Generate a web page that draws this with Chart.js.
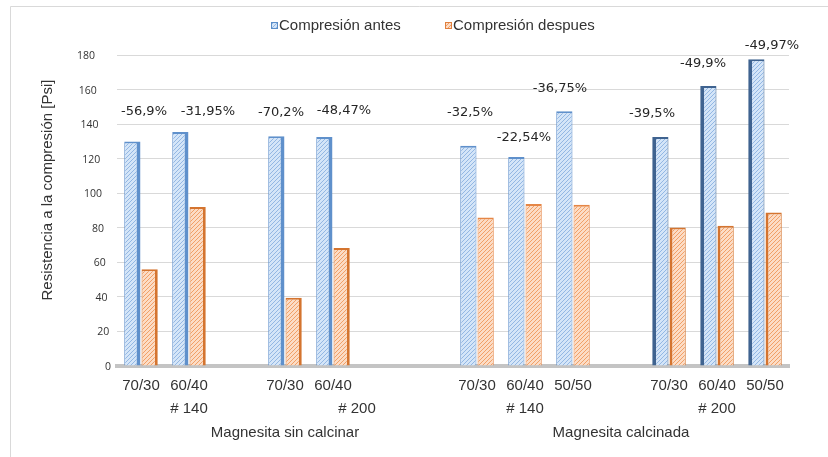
<!DOCTYPE html>
<html>
<head>
<meta charset="utf-8">
<script src="https://cdn.jsdelivr.net/npm/chart.js@4.4.1/dist/chart.umd.min.js"></script>
<style>
  html, body { margin: 0; padding: 0; background: #ffffff; }
  #wrap { width: 828px; height: 457px; position: relative; }
</style>
</head>
<body>
<div id="wrap"><canvas id="c" width="828" height="457"></canvas></div>
<script>
// Mezclas (empty slots separate the mesh groups)
const categories = ['70/30', '60/40', '', '70/30', '60/40', '', '', '70/30', '60/40', '50/50', '', '70/30', '60/40', '50/50'];
// Resistencia a la compresión [Psi]
const antes   = [130, 135.5, null, 133, 132.5, null, null, 127.5, 121, 147.5, null, 132.5, 162, 177.5];
const despues = [56, 92, null, 39.5, 68.3, null, null, 86, 93.7, 93.3, null, 80.2, 81.2, 88.8];
// Variación de la resistencia
const variacion = ['-56,9%', '-31,95%', null, '-70,2%', '-48,47%', null, null, '-32,5%', '-22,54%', '-36,75%', null, '-39,5%', '-49,9%', '-49,97%'];
// Second and third category levels (first/last category index of each group)
const mallaLabels = ['# 140', '# 200', '# 140', '# 200'];
const mallaSpans  = [[0, 2], [3, 6], [7, 9], [11, 13]];
const tipoLabels  = ['Magnesita sin calcinar', 'Magnesita calcinada'];
const tipoSpans   = [[0, 6], [7, 13]];
const yTicks = [0, 20, 40, 60, 80, 100, 120, 140, 160, 180];
const seriesNames = ['Compresión antes', 'Compresión despues'];

const FONT = '"Liberation Sans", Arial, sans-serif';
const TEXT = '#333333';

function hatch(bg, line) {
  const s = 4;
  const cv = document.createElement('canvas');
  cv.width = s; cv.height = s;
  const g = cv.getContext('2d');
  g.fillStyle = bg; g.fillRect(0, 0, s, s);
  g.strokeStyle = line; g.lineWidth = 1;
  g.beginPath();
  g.moveTo(-1, s + 1); g.lineTo(s + 1, -1);
  g.moveTo(-1, 1); g.lineTo(1, -1);
  g.moveTo(s - 1, s + 1); g.lineTo(s + 1, s - 1);
  g.stroke();
  return document.getElementById('c').getContext('2d').createPattern(cv, 'repeat');
}

const bluePat = hatch('#d4e5f8', '#93b7e3');
const orangePat = hatch('#fcdcc5', '#f1a067');

// pseudo-3D side face: left-hand bars show their right face, right-hand bars their left face
function faceSide(i) { return i < 6 ? 'right' : (i > 10 ? 'left' : 'none'); }
function bordersFor(i, wide) {
  const s = faceSide(i);
  return { top: 2, bottom: 0, left: s === 'left' ? wide : 1, right: s === 'right' ? wide : 1 };
}

const framePlugin = {
  id: 'frame',
  beforeDraw(chart) {
    const ctx = chart.ctx;
    ctx.save();
    ctx.strokeStyle = '#d9d9d9';
    ctx.lineWidth = 1;
    ctx.beginPath();
    ctx.moveTo(10.5, 457); ctx.lineTo(10.5, 6.5); ctx.lineTo(828, 6.5);
    ctx.stroke();
    ctx.restore();
  }
};

const legendPlugin = {
  id: 'hatchLegend',
  afterDraw(chart) {
    const ctx = chart.ctx;
    const items = [[271, bluePat, '#5b8ec9'], [445, orangePat, '#e0803e']];
    ctx.save();
    ctx.font = '15px ' + FONT;
    ctx.textBaseline = 'middle';
    items.forEach((it, k) => {
      ctx.fillStyle = it[1];
      ctx.fillRect(it[0], 22, 7, 7);
      ctx.strokeStyle = it[2];
      ctx.lineWidth = 1;
      ctx.strokeRect(it[0] + 0.5, 22.5, 6, 6);
      ctx.fillStyle = TEXT;
      ctx.fillText(seriesNames[k], it[0] + 8, 26);
    });
    ctx.restore();
  }
};

const axisTextPlugin = {
  id: 'axisText',
  afterDraw(chart) {
    const ctx = chart.ctx;
    const y = chart.scales.y, x = chart.scales.x;
    ctx.save();
    // value ticks, shifted along the receding wall
    ctx.font = '10.5px "Open Sans", sans-serif';
    ctx.fillStyle = TEXT;
    ctx.textAlign = 'right';
    ctx.textBaseline = 'middle';
    yTicks.forEach(v => {
      const frac = v / y.max;
      ctx.fillText(String(v), 111 - 16 * frac, y.getPixelForValue(v) + 1);
    });
    // axis title
    ctx.font = '15px ' + FONT;
    ctx.textAlign = 'center';
    ctx.translate(48, 190);
    ctx.rotate(-Math.PI / 2);
    ctx.fillText('Resistencia a la compresión [Psi]', 0, 0);
    ctx.restore();

    // grouped category levels
    ctx.save();
    ctx.font = '15px ' + FONT;
    ctx.fillStyle = TEXT;
    ctx.textAlign = 'center';
    ctx.textBaseline = 'middle';
    mallaLabels.forEach((t, k) => {
      const cx = (x.getPixelForValue(mallaSpans[k][0]) + x.getPixelForValue(mallaSpans[k][1])) / 2;
      ctx.fillText(t, cx, 409);
    });
    tipoLabels.forEach((t, k) => {
      const cx = (x.getPixelForValue(tipoSpans[k][0]) + x.getPixelForValue(tipoSpans[k][1])) / 2;
      ctx.fillText(t, cx, 433);
    });
    ctx.restore();
  }
};

const variacionPlugin = {
  id: 'variacionLabels',
  afterDatasetsDraw(chart, args, opts) {
    const ctx = chart.ctx;
    const meta = chart.getDatasetMeta(0);
    const x = chart.scales.x;
    ctx.save();
    ctx.font = '13px "DejaVu Sans", Verdana, sans-serif';
    ctx.fillStyle = '#262626';
    ctx.textAlign = 'center';
    ctx.textBaseline = 'middle';
    variacion.forEach((t, i) => {
      if (!t) return;
      const bar = meta.data[i];
      const off = opts.offsets[i];
      ctx.fillText(t, x.getPixelForValue(i) + off[0], bar.y + off[1]);
    });
    ctx.restore();
  }
};

new Chart(document.getElementById('c'), {
  type: 'bar',
  data: {
    labels: categories,
    datasets: [
      {
        label: seriesNames[0],
        data: antes,
        backgroundColor: bluePat,
        borderColor: ctx => faceSide(ctx.dataIndex) === 'left' ? '#3f6390' : '#5f90cb',
        borderWidth: ctx => bordersFor(ctx.dataIndex, 4),
        borderSkipped: 'start'
      },
      {
        label: seriesNames[1],
        data: despues,
        backgroundColor: orangePat,
        borderColor: ctx => faceSide(ctx.dataIndex) === 'none' ? '#e58646' : '#d4742f',
        borderWidth: ctx => bordersFor(ctx.dataIndex, 3),
        borderSkipped: 'start'
      }
    ]
  },
  options: {
    responsive: false,
    animation: false,
    devicePixelRatio: 1,
    events: [],
    layout: { padding: { left: 117, right: 39, top: 55, bottom: 0 } },
    datasets: { bar: { categoryPercentage: 0.72, barPercentage: 0.94 } },
    plugins: {
      legend: { display: false },
      tooltip: { enabled: false },
      variacionLabels: {
        offsets: [[3, -30], [19, -20], null, [-4, -24], [11, -26], null, null,
                  [-7, -33], [-1, -19], [-13, -23], null, [-17, -23], [-14, -22], [7, -14]]
      }
    },
    scales: {
      x: {
        grid: { display: false, drawTicks: false },
        border: { display: true, color: '#c4c4c4', width: 4 },
        ticks: { color: TEXT, font: { family: FONT, size: 15 }, padding: 11, maxRotation: 0, autoSkip: false },
        afterFit: s => { s.height = 91; }
      },
      y: {
        min: 0, max: 180,
        ticks: { stepSize: 20, display: false },
        grid: { color: '#d9d9d9', lineWidth: 1, drawTicks: false },
        border: { display: false },
        afterFit: s => { s.width = 0; }
      }
    }
  },
  plugins: [framePlugin, legendPlugin, axisTextPlugin, variacionPlugin]
});
</script>
</body>
</html>
